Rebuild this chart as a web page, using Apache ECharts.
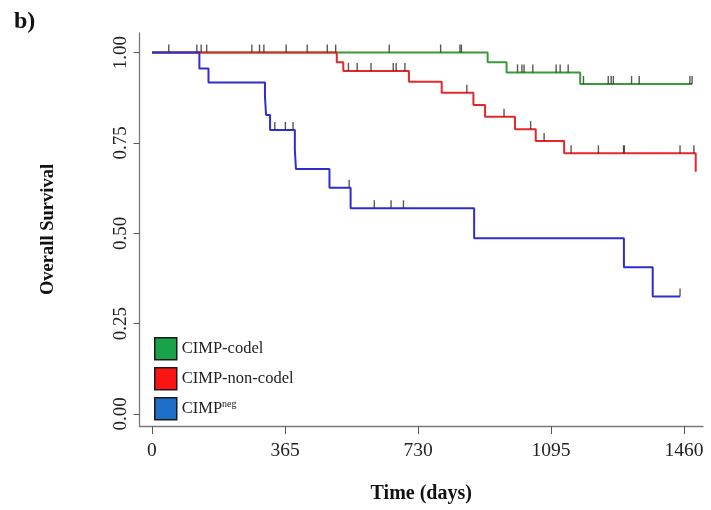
<!DOCTYPE html>
<html>
<head>
<meta charset="utf-8">
<script src="https://cdn.jsdelivr.net/npm/echarts@6/dist/echarts.min.js"></script>
<style>
  html, body { margin: 0; padding: 0; background: #ffffff; }
  #chart { width: 711px; height: 510px; }
</style>
</head>
<body>
<div id="chart"></div>
<script>
// Kaplan-Meier overall survival by CIMP subgroup (time in days)
const groupNames = ['CIMP-codel', 'CIMP-non-codel', 'CIMPneg'];

// Step curves: [day, survival probability] at each event time
const codelCurve = [[0, 1], [921, 0.973], [973, 0.945], [1175, 0.913], [1482, 0.913]];
const nonCodelCurve = [[0, 1], [507, 0.973], [525, 0.949], [705, 0.919], [795, 0.889],
  [882, 0.855], [914, 0.822], [996, 0.788], [1053, 0.755], [1131, 0.721], [1492, 0.67]];
const negCurve = [[0, 1], [130, 0.956], [155, 0.917], [310, 0.878], [313, 0.827],
  [324, 0.786], [392, 0.73], [395, 0.678], [487, 0.626], [545, 0.569], [884, 0.486],
  [1295, 0.406], [1374, 0.325], [1449, 0.325]];

// Censoring times (days)
const codelCensored = [651, 792, 845, 849, 1003, 1015, 1021, 1045, 1109, 1120, 1142,
  1184, 1252, 1260, 1266, 1316, 1337, 1476, 1482];
const nonCodelCensored = [123, 135, 150, 274, 295, 307, 368, 426, 481, 504, 539, 563,
  601, 662, 670, 694, 864, 966, 1039, 1076, 1150, 1225, 1294, 1296, 1449, 1487];
const negCensored = [46, 337, 366, 387, 541, 610, 656, 690, 1449];

const xTicks = [0, 365, 730, 1095, 1460];
const yTicks = [0, 0.25, 0.5, 0.75, 1];

const lineColors = ['#3a9a3a', '#e5262b', '#2e2ecf'];
const legendFills = ['#18a34a', '#fa1414', '#1f6fc8'];

// survival level of a step curve at time t
function survivalAt(curve, t) {
  let s = curve[0][1];
  for (const p of curve) { if (p[0] <= t) s = p[1]; else break; }
  return s;
}

const curves = [codelCurve, nonCodelCurve, negCurve];
const censored = [codelCensored, nonCodelCensored, negCensored];

const serif = 'Liberation Serif, Times New Roman, serif';

const lineSeries = curves.map((c, i) => ({
  name: groupNames[i],
  type: 'line',
  step: 'end',
  data: c,
  showSymbol: false,
  symbol: 'none',
  lineStyle: { color: lineColors[i], width: 2 },
  itemStyle: { color: legendFills[i] },
  z: 2 + i,
  silent: true
}));

const censorSeries = censored.map((times, i) => ({
  name: groupNames[i] + ' censored',
  type: 'scatter',
  data: times.map(t => [t, survivalAt(curves[i], t)]),
  symbol: 'rect',
  symbolSize: [1.4, 8],
  symbolOffset: [0, -4],
  itemStyle: { color: '#2e2e2e' },
  z: 10,
  silent: true
}));

const chart = echarts.init(document.getElementById('chart'), null, { renderer: 'canvas' });
chart.setOption({
  animation: false,
  backgroundColor: '#ffffff',
  title: {
    text: 'b)',
    left: 9, top: 5,
    textStyle: { fontFamily: serif, fontWeight: 'bold', fontSize: 24, color: '#111' }
  },
  grid: { left: 139.5, right: 8, top: 33, bottom: 84, containLabel: false },
  legend: {
    data: groupNames.map((n, i) => ({
      name: n,
      icon: 'rect',
      itemStyle: { color: legendFills[i], borderColor: '#1a1a1a', borderWidth: 1.5 }
    })),
    orient: 'vertical',
    left: 154, top: 337,
    padding: 0,
    itemWidth: 22, itemHeight: 22, itemGap: 6.5,
    selectedMode: false,
    formatter: n => n === 'CIMPneg' ? '{b|CIMP}{s|neg}' : '{b|' + n + '}',
    textStyle: {
      fontFamily: serif, fontSize: 16.5, color: '#222',
      rich: {
        b: { fontFamily: serif, fontSize: 16.5, color: '#222' },
        s: { fontFamily: serif, fontSize: 10, color: '#222', verticalAlign: 'top', padding: [0, 0, 8, 0] }
      }
    }
  },
  xAxis: {
    type: 'value',
    min: -34.3, max: 1512,
    name: 'Time (days)',
    nameLocation: 'middle',
    nameGap: 58,
    nameTextStyle: { fontFamily: serif, fontWeight: 'bold', fontSize: 20, color: '#111' },
    axisLine: { show: true, onZero: false, lineStyle: { color: '#7a7a7a', width: 1.3 } },
    axisTick: { show: true, customValues: xTicks, length: 8, lineStyle: { color: '#555', width: 1 } },
    axisLabel: {
      customValues: xTicks, formatter: v => String(v),
      fontFamily: serif, fontSize: 19.5, color: '#222', margin: 15
    },
    splitLine: { show: false }
  },
  yAxis: {
    type: 'value',
    min: -0.0332, max: 1.054,
    name: 'Overall Survival',
    nameLocation: 'middle',
    nameGap: 82,
    nameRotate: 90,
    nameTextStyle: { fontFamily: serif, fontWeight: 'bold', fontSize: 18.5, color: '#111' },
    axisLine: { show: true, onZero: false, lineStyle: { color: '#7a7a7a', width: 1.3 } },
    axisTick: { show: true, customValues: yTicks, length: 6, lineStyle: { color: '#555', width: 1 } },
    axisLabel: {
      customValues: yTicks, rotate: 90, formatter: v => v.toFixed(2),
      fontFamily: serif, fontSize: 19, color: '#222', margin: 9
    },
    splitLine: { show: false }
  },
  series: [...lineSeries, ...censorSeries]
});
</script>
</body>
</html>
